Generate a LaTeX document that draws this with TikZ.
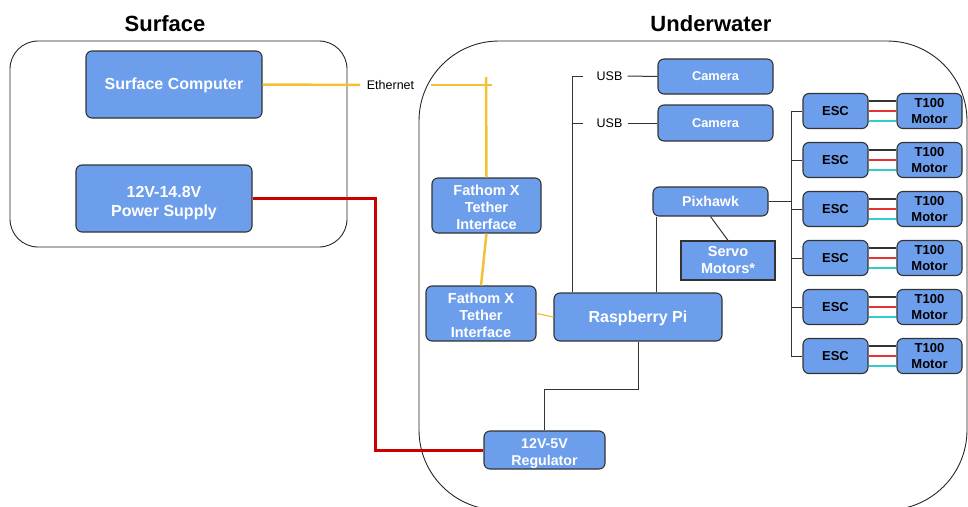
\documentclass[tikz,border=0pt]{standalone}
\usepackage{fontspec}
\setmainfont{Liberation Sans}
\definecolor{boxblue}{HTML}{6D9EEB}
\definecolor{boxline}{HTML}{333333}
\definecolor{ethyel}{HTML}{F1C232}
\definecolor{pwrred}{HTML}{CC0000}
\definecolor{wirecyan}{HTML}{33CCCC}
\definecolor{wirered}{HTML}{E53333}
\definecolor{wireblk}{HTML}{333333}
\newcommand\lowr[1]{\rule{0pt}{#1}}
\begin{document}
\begin{tikzpicture}[x=1pt,y=-1pt,
  blk/.style={draw=boxline, line width=1.1pt, fill=boxblue, rounded corners=6pt, text=white, align=center, inner sep=0pt, font=\bfseries\fontsize{16}{19}\selectfont},
  fxf/.style={font=\bfseries\fontsize{14.5}{17}\selectfont},
  pixf/.style={font=\bfseries\fontsize{14.2}{17}\selectfont},
  camf/.style={font=\bfseries\fontsize{12.8}{15}\selectfont},
  escf/.style={text=black, font=\bfseries\fontsize{13}{16}\selectfont},
  lbl/.style={inner sep=0pt, font=\fontsize{12.5}{15}\selectfont},
  ttl/.style={font=\bfseries\fontsize{22}{26}\selectfont},
  cont/.style={draw=black!85, line width=0.9pt},
  conn/.style={draw=wireblk, line width=1pt},
  eth/.style={draw=ethyel, line width=2.5pt},
  pwr/.style={draw=pwrred, line width=3pt},
]
\useasboundingbox (0,0) rectangle (968,506);

% containers
\draw[cont, rounded corners=28pt] (10,41) rectangle (347,247);
\draw[cont, rounded corners=80pt] (419,41) rectangle (967,510);
\node[ttl] (tsurf) at (165,24) {Surface};
\node[ttl] (tunder) at (711,24) {Underwater};

% nodes
\node[blk, minimum width=176pt, minimum height=67pt] (sc) at (174,84.5) {\lowr{13.5pt}Surface Computer};
\node[blk, minimum width=176pt, minimum height=67pt] (ps) at (164,198.5) {\lowr{19.5pt}12V-14.8V\\Power Supply};
\node[blk, fxf, minimum width=109pt, minimum height=55pt] (fx1) at (486.5,205.5) {\lowr{14.6pt}Fathom X\\Tether\\Interface};
\node[blk, fxf, minimum width=110pt, minimum height=55pt] (fx2) at (481,313.5) {\lowr{14.6pt}Fathom X\\Tether\\Interface};
\node[blk, minimum width=168pt, minimum height=48pt] (rpi) at (638,317) {\lowr{13.5pt}Raspberry Pi};
\node[blk, pixf, minimum width=115pt, minimum height=29pt] (pix) at (710.5,201.5) {Pixhawk};
\node[blk, fxf, sharp corners, minimum width=94pt, minimum height=39pt] (servo) at (728,260.5) {Servo\\Motors*};
\node[blk, camf, minimum width=115pt, minimum height=35pt] (cam1) at (715.5,76.5) {Camera};
\node[blk, camf, minimum width=115pt, minimum height=36pt] (cam2) at (715.5,123) {Camera};
\node[blk, pixf, minimum width=121pt, minimum height=38pt] (reg) at (544.5,450) {\lowr{16.2pt}12V-5V\\Regulator};

\node[lbl] (eth) at (390.5,85) {Ethernet};
\node[lbl] (usb1) at (609.5,76) {USB};
\node[lbl] (usb2) at (609.5,123) {USB};

% ethernet
\coordinate (e1) at (360,85);
\coordinate (e2) at (431,85);
\coordinate (e3) at (492,85);
\coordinate (etop) at (486,77);
\draw[eth] (sc.east) -- (e1);
\draw[eth] (e2) -- (e3);
\draw[eth] (etop) -- (fx1.north);
\draw[eth] (fx1.south) -- (fx2.north);
\draw[draw=ethyel, line width=1.2pt] (fx2.east) -- (rpi.west);

% power
\coordinate (rc) at (375,0);
\draw[pwr] (ps.east) -- (ps.east -| rc) -- (rc |- reg.west) -- (reg.west);

% USB
\coordinate (ub) at (572,76);
\draw[conn] ([xshift=-13pt]usb1.west) -- (ub) -- (ub |- rpi.north);
\draw[conn] ([xshift=-13pt]usb2.west) -- (usb2.west -| ub);
\draw[conn] ([xshift=5pt]usb1.east) -- (cam1.west);
\draw[conn] ([xshift=5pt]usb2.east) -- (cam2.west);

% pixhawk
\draw[conn] ([xshift=4pt]pix.south west) -- ([xshift=4pt]pix.south west |- rpi.north);
\draw[conn] (pix.south) -- (servo.north);

% regulator link
\coordinate (rj) at (0,389);
\draw[conn] (rpi.south) -- (rpi.south |- rj) -- (reg.north |- rj) -- (reg.north);

% ESC and motors
\coordinate (bus) at (791,0);
\foreach \i/\y in {1/111,2/160,3/209,4/258,5/307,6/356} {
  \node[blk, escf, minimum width=65pt, minimum height=35pt] (esc\i) at (835.5,\y) {ESC};
  \node[blk, escf, minimum width=65pt, minimum height=35pt] (mot\i) at (929.5,\y) {T100\\Motor};
  \draw[conn] (esc\i.west -| bus) -- (esc\i.west);
  \draw[draw=wireblk, line width=1.1pt] ([yshift=10pt]esc\i.east) -- ([yshift=10pt]mot\i.west);
  \draw[draw=wirered, line width=1.1pt] (esc\i.east) -- (mot\i.west);
  \draw[draw=wirecyan, line width=1.1pt] ([yshift=-10pt]esc\i.east) -- ([yshift=-10pt]mot\i.west);
}
\draw[conn] (esc1.west -| bus) -- (esc6.west -| bus);
\draw[conn] (pix.east) -- (pix.east -| bus);
\end{tikzpicture}
\end{document}
